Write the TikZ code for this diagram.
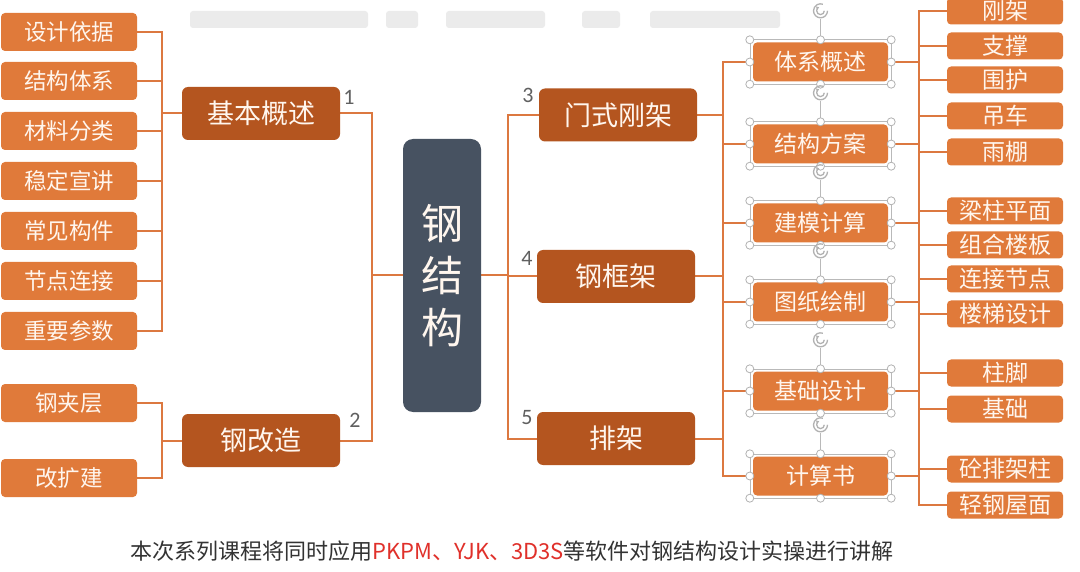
\documentclass[tikz,border=0pt]{standalone}
\usepackage{fontspec}
\newfontfamily\cjk{Noto Sans CJK SC}
\newfontfamily\numf{Carlito}
\usetikzlibrary{arrows.meta}
\pgfdeclarelayer{bg}
\pgfsetlayers{bg,main}
\definecolor{leafc}{HTML}{E07A3A}
\definecolor{darkc}{HTML}{B4551F}
\definecolor{slate}{HTML}{475261}
\definecolor{linec}{HTML}{DC7840}
\definecolor{txtc}{HTML}{FFF6EE}
\definecolor{redt}{HTML}{E0302A}
\definecolor{bodyt}{HTML}{333333}
\begin{document}
\begin{tikzpicture}[x=1pt,y=-1pt,
  boxbase/.style={rounded corners=4pt, inner sep=0pt, text=txtc, align=center},
  lleafbox/.style={boxbase, fill=leafc, minimum width=136pt, minimum height=38pt, font=\cjk\fontsize{22.5}{24}\selectfont},
  lvlbox/.style={boxbase, fill=darkc, minimum width=158pt, minimum height=53pt, rounded corners=6pt, font=\cjk\fontsize{27}{28}\selectfont},
  midbox/.style={boxbase, fill=leafc, minimum width=135pt, minimum height=39pt, font=\cjk\fontsize{23}{24}\selectfont},
  rleafbox/.style={boxbase, fill=leafc, minimum width=116pt, minimum height=27pt, font=\cjk\fontsize{23}{24}\selectfont},
  corebox/.style={boxbase, fill=slate, rounded corners=10pt, minimum width=78pt, minimum height=273pt, font=\cjk\fontsize{42}{52}\selectfont},
  conn/.style={draw=linec, line width=2pt, line cap=rect},
  numlab/.style={text=gray!75!black, font=\numf\fontsize{22}{24}\selectfont},
  selline/.style={draw=gray!55, line width=0.6pt},
  handle/.style={draw=gray!60, fill=white, line width=0.8pt},
  rotline/.style={draw=gray!60, line width=1.3pt},
  blur/.style={fill=gray!16, draw=none, rounded corners=3pt}
]
\useasboundingbox (0,0) rectangle (1080,572);

% left leaves
\node[lleafbox] (l1) at (69,32) {设计依据};
\node[lleafbox] (l2) at (69,81) {结构体系};
\node[lleafbox] (l3) at (69,131) {材料分类};
\node[lleafbox] (l4) at (69,181) {稳定宣讲};
\node[lleafbox] (l5) at (69,231) {常见构件};
\node[lleafbox] (l6) at (69,281) {节点连接};
\node[lleafbox] (l7) at (69,331) {重要参数};
\node[lleafbox] (l8) at (69,403) {钢夹层};
\node[lleafbox] (l9) at (69,478) {改扩建};

% level 1 left
\node[lvlbox] (b1) at (261,113.5) {基本概述};
\node[lvlbox] (b2) at (261,440.5) {钢改造};
\node[numlab] (n1) at (349,97) {1};
\node[numlab] (n2) at (355,420) {2};

% core
\node[corebox] (c) at (442,275.5) {钢\\结\\构};

% level 1 right
\node[lvlbox] (m1) at (618,115) {门式刚架};
\node[lvlbox] (m2) at (616,276.5) {钢框架};
\node[lvlbox] (m3) at (616,438.5) {排架};
\node[numlab] (n3) at (528,95) {3};
\node[numlab] (n4) at (527,258) {4};
\node[numlab] (n5) at (527,418) {5};

% middle boxes
\node[midbox] (s1) at (820.5,62) {体系概述};
\node[midbox] (s2) at (820.5,144) {结构方案};
\node[midbox] (s3) at (820.5,223) {建模计算};
\node[midbox] (s4) at (820.5,302) {图纸绘制};
\node[midbox] (s5) at (820.5,391) {基础设计};
\node[midbox] (s6) at (820.5,476) {计算书};

% right leaves
\node[rleafbox] (r1) at (1005,11) {刚架};
\node[rleafbox] (r2) at (1005,46) {支撑};
\node[rleafbox] (r3) at (1005,80) {围护};
\node[rleafbox] (r4) at (1005,116) {吊车};
\node[rleafbox] (r5) at (1005,152) {雨棚};
\node[rleafbox] (r6) at (1005,211) {梁柱平面};
\node[rleafbox] (r7) at (1005,245) {组合楼板};
\node[rleafbox] (r8) at (1005,279) {连接节点};
\node[rleafbox] (r9) at (1005,314) {楼梯设计};
\node[rleafbox] (r10) at (1005,373) {柱脚};
\node[rleafbox] (r11) at (1005,409) {基础};
\node[rleafbox] (r12) at (1005,469) {砼排架柱};
\node[rleafbox] (r13) at (1005,505) {轻钢屋面};

% bus coordinates
\coordinate (busL) at (162,0);
\coordinate (busM) at (372,0);
\coordinate (busR) at (508,0);
\coordinate (busS) at (723,0);
\coordinate (busT) at (919,0);

\begin{pgfonlayer}{bg}
  \fill[white] (0,0) rectangle (1080,572);
  % blurred header
  \fill[blur] (190,11) rectangle (368,28);
  \fill[blur] (386,11) rectangle (418,28);
  \fill[blur] (446,11) rectangle (545,28);
  \fill[blur] (582,11) rectangle (620,28);
  \fill[blur] (650,11) rectangle (780,28);
  \foreach \i in {1,...,9} \draw[conn] (l\i.east) -- (l\i.east -| busL);
  \draw[conn] (busL |- l1.east) -- (busL |- l7.east);
  \draw[conn] (busL |- b1.west) -- (b1.west);
  \draw[conn] (busL |- l8.east) -- (busL |- l9.east);
  \draw[conn] (busL |- b2.west) -- (b2.west);
  \draw[conn] (b1.east) -- (busM |- b1.east) -- (busM |- b2.east) -- (b2.east);
  \draw[conn] (busM |- c.west) -- (c.west);
  \draw[conn] (c.east) -- (busR |- c.east);
  \draw[conn] (busR |- m1.west) -- (busR |- m3.west);
  \foreach \i in {1,2,3} {
    \draw[conn] (busR |- m\i.west) -- (m\i.west);
    \draw[conn] (m\i.east) -- (busS |- m\i.east);
  }
  \draw[conn] (busS |- s1.west) -- (busS |- s6.west);
  \draw[conn] (busT |- r1.west) -- (busT |- r13.west);
  \foreach \i in {1,...,6} {
    \draw[conn] (busS |- s\i.west) -- (s\i.west);
    \draw[conn] (s\i.east) -- (busT |- s\i.east);
  }
  \foreach \i in {1,...,13} \draw[conn] (busT |- r\i.west) -- (r\i.west);
\end{pgfonlayer}

% selection decorations
\foreach \n in {s1,s2,s3,s4,s5,s6}{
  \path ([shift={(-3,-2.5)}]\n.north west) coordinate (A)
        ([shift={(3,2.5)}]\n.south east) coordinate (B);
  \path (\n.north |- A) coordinate (T);
  \draw[selline] (A) rectangle (B);
  \draw[selline] (T) -- ([yshift=21pt]T);
  \draw[rotline] ([yshift=29pt]T) ++(7,0) arc[start angle=0,end angle=290,radius=7];
  \draw[rotline,-{Stealth[length=3.5pt,width=4.5pt]}] ([yshift=29pt]T) ++(3.8,0) arc[start angle=0,end angle=250,radius=3.8];
  \foreach \p in {(A),(B),(A -| B),(B -| A),(T),(\n.south |- B),(\n.west -| A),(\n.east -| B)}
    \draw[handle] \p circle[radius=4];
}

% caption
\node[font=\cjk\fontsize{22}{24}\selectfont, text=bodyt, inner sep=0pt] (cap) at (512,551)
  {本次系列课程将同时应用\textcolor{redt}{PKPM、YJK、3D3S}等软件对钢结构设计实操进行讲解};
\end{tikzpicture}
\end{document}
